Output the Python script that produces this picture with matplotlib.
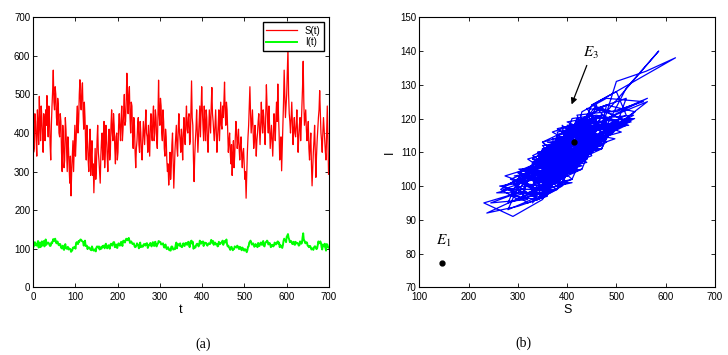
import numpy as np
import matplotlib
matplotlib.use("Agg")
import matplotlib.pyplot as plt

# ---- data ----
# samples at t = 0, 3, 6, ... 699
S_vals = [410, 360, 430, 340, 420, 495, 380, 440, 350, 420, 460, 497, 390, 440, 330, 470,
          563, 460, 500, 420, 470, 390, 430, 300, 380, 330, 410, 300, 360, 270, 237, 340,
          300, 420, 380, 470, 430, 538, 460, 530, 410, 440, 330, 380, 300, 410, 340, 290,
          245, 360, 310, 420, 330, 270, 380, 330, 430, 350, 390, 300, 410, 350, 460, 380,
          420, 320, 400, 350, 450, 380, 470, 410, 500, 430, 555, 450, 520, 400, 470, 360,
          420, 310, 380, 440, 350, 400, 330, 430, 370, 460, 390, 420, 340, 450, 380, 470,
          400, 440, 360, 537, 420, 470, 380, 430, 340, 390, 300, 265, 350, 310, 400, 257,
          360, 420, 340, 450, 380, 410, 330, 440, 370, 470, 400, 450, 380, 535, 420, 274,
          380, 460, 350, 430, 390, 520, 420, 470, 380, 440, 350, 460, 400, 518, 430, 380,
          460, 350, 420, 380, 480, 410, 440, 532, 420, 460, 350, 400, 320, 290, 380, 340,
          430, 360, 410, 330, 390, 310, 360, 280, 231, 350, 420, 520, 400, 460, 360, 420,
          340, 400, 450, 370, 480, 400, 440, 370, 525, 430, 470, 360, 420, 340, 450, 380,
          480, 527, 400, 350, 302, 420, 563, 440, 500, 620, 450, 400, 480, 370, 440, 390,
          460, 350, 420, 380, 470, 586, 420, 460, 380, 430, 330, 400, 263, 350, 420, 285,
          380, 440, 510, 400, 350, 440, 380, 330, 470, 293]
I_vals = [106, 111, 109, 108, 120, 116, 104, 119, 113, 106, 124, 114, 116, 110, 108, 114,
          125, 123, 118, 119, 111, 112, 105, 104, 99, 107, 102, 101, 98, 99, 92, 96,
          102, 105, 115, 114, 120, 122, 123, 119, 108, 121, 107, 99, 104, 101, 96, 101,
          95, 98, 103, 105, 106, 100, 100, 105, 106, 110, 104, 104, 107, 110, 111, 114,
          117, 108, 103, 111, 110, 113, 114, 120, 119, 122, 125, 124, 121, 118, 115, 113,
          107, 105, 114, 108, 111, 104, 108, 109, 112, 111, 114, 107, 109, 110, 113, 112,
          117, 108, 112, 120, 117, 111, 112, 107, 108, 102, 103, 99, 98, 105, 104, 98,
          99, 116, 110, 111, 114, 107, 109, 109, 114, 113, 116, 111, 115, 121, 118, 103,
          103, 112, 111, 109, 116, 118, 119, 113, 114, 110, 111, 112, 117, 119, 120, 114,
          111, 112, 107, 114, 114, 118, 110, 120, 119, 111, 108, 101, 104, 101, 99, 106,
          105, 108, 102, 105, 100, 103, 97, 99, 95, 96, 106, 118, 116, 111, 111, 107,
          109, 104, 110, 112, 113, 117, 108, 113, 118, 119, 112, 111, 106, 110, 109, 114,
          113, 119, 116, 110, 105, 109, 126, 123, 131, 138, 124, 119, 116, 116, 111, 118,
          114, 113, 109, 117, 115, 140, 121, 114, 116, 107, 107, 103, 100, 97, 106, 102,
          101, 119, 116, 115, 98, 107, 113, 95, 111, 103]
# samples at t = 1.5, 4.5, ... 697.5
S_mid = [350, 450, 380, 460, 370, 420, 470, 390, 450, 380, 420, 430, 470, 370, 420, 510,
         480, 520, 440, 490, 400, 450, 350, 420, 310, 440, 350, 390, 310, 340, 300, 380,
         360, 340, 440, 400, 500, 480, 510, 450, 480, 370, 420, 330, 370, 290, 380, 320,
         300, 280, 380, 350, 300, 340, 400, 370, 310, 420, 340, 370, 330, 420, 400, 450,
         360, 390, 330, 420, 410, 440, 380, 460, 420, 480, 490, 500, 440, 480, 390, 440,
         350, 360, 420, 370, 430, 350, 380, 400, 420, 400, 350, 380, 420, 400, 440, 380,
         460, 380, 440, 450, 490, 400, 460, 360, 410, 330, 320, 300, 280, 370, 330, 310,
         390, 360, 410, 400, 350, 380, 400, 390, 430, 410, 440, 370, 460, 440, 330, 340,
         410, 400, 390, 470, 450, 460, 380, 420, 460, 380, 410, 430, 470, 450, 400, 420,
         400, 390, 460, 430, 420, 470, 480, 450, 480, 400, 380, 350, 370, 340, 310, 390,
         400, 380, 360, 370, 340, 350, 320, 300, 290, 390, 470, 450, 430, 410, 380, 390,
         380, 430, 410, 420, 430, 460, 400, 450, 470, 400, 420, 390, 380, 400, 420, 440,
         430, 450, 330, 390, 360, 480, 500, 470, 560, 500, 430, 440, 420, 410, 400, 420,
         400, 390, 440, 420, 520, 480, 440, 410, 400, 360, 370, 320, 310, 380, 350, 340,
         410, 460, 450, 380, 400, 410, 350, 400, 380]
I_mid = [105, 117, 112, 115, 103, 114, 116, 108, 120, 109, 110, 116, 114, 107, 116, 119,
         120, 126, 114, 118, 109, 112, 101, 108, 97, 112, 100, 105, 101, 99, 94, 103,
         104, 100, 117, 112, 118, 124, 120, 118, 114, 107, 108, 103, 101, 97, 106, 96,
         98, 93, 106, 103, 98, 104, 106, 108, 101, 113, 101, 109, 100, 113, 108, 117,
         104, 111, 102, 114, 108, 118, 107, 121, 116, 126, 122, 128, 115, 119, 112, 114,
         104, 108, 110, 101, 116, 106, 105, 112, 108, 114, 102, 110, 115, 106, 117, 107,
         118, 106, 113, 119, 117, 112, 114, 103, 111, 99, 104, 96, 95, 106, 98, 100,
         110, 101, 112, 108, 106, 104, 114, 107, 115, 110, 118, 104, 120, 113, 100, 106,
         108, 113, 106, 121, 113, 117, 107, 116, 115, 108, 114, 112, 123, 114, 110, 116,
         113, 106, 118, 112, 116, 121, 117, 116, 124, 106, 104, 97, 105, 96, 99, 104,
         103, 106, 99, 104, 96, 101, 95, 98, 91, 105, 116, 121, 111, 114, 105, 112,
         106, 115, 107, 116, 110, 120, 106, 117, 121, 111, 115, 104, 110, 106, 116, 111,
         117, 113, 104, 106, 102, 120, 122, 117, 134, 128, 117, 120, 112, 118, 110, 114,
         115, 108, 119, 113, 129, 122, 115, 117, 108, 104, 107, 98, 101, 103, 106, 99,
         110, 114, 119, 104, 111, 106, 103, 112, 105]
t_step = 1.5
E1 = (145.4, 77.3)
E3 = (414.5, 113.1)

n = len(S_vals) + len(S_mid)
S = np.empty(n)
I = np.empty(n)
S[0::2], S[1::2] = S_vals, S_mid
I[0::2], I[1::2] = I_vals, I_mid
t = np.arange(n) * t_step

plt.rcParams['font.family'] = ['Liberation Sans', 'DejaVu Sans']
plt.rcParams['mathtext.fontset'] = 'stix'

fig = plt.figure(figsize=(7.28, 3.55), dpi=100)
ax1 = fig.add_axes([0.0453, 0.1907, 0.4066, 0.7606])
ax2 = fig.add_axes([0.576, 0.1907, 0.406, 0.7606])

for ax in (ax1, ax2):
    ax.tick_params(direction='in', top=True, right=True, labelsize=7, length=3, width=0.6, pad=2)
    ax.tick_params(axis='x', pad=3.5)
    for sp in ax.spines.values():
        sp.set_linewidth(0.8)

# (a) time series
ax1.plot(t, S, color='#ff0000', lw=0.9, label='S(t)')
ax1.plot(t, I, color='#00ff00', lw=1.4, label='I(t)')
ax1.set_xlim(0, 700)
ax1.set_ylim(0, 700)
ax1.set_xticks(range(0, 701, 100))
ax1.set_yticks(range(0, 701, 100))
ax1.set_xlabel('t', fontsize=9, labelpad=1)
leg = ax1.legend(loc='upper right', fontsize=7, frameon=True, fancybox=False,
                 edgecolor='black', framealpha=1, handlelength=3.2,
                 borderaxespad=0.5, borderpad=0.35, labelspacing=0.2)
leg.get_frame().set_linewidth(1.0)

# (b) phase plane
ax2.plot(S, I, color='#0000ff', lw=0.9)
ax2.plot(*E3, 'o', color='black', ms=3.5)
ax2.plot(*E1, 'o', color='black', ms=3.5)
ax2.set_xlim(100, 700)
ax2.set_ylim(70, 150)
ax2.set_xticks(range(100, 701, 100))
ax2.set_yticks(range(70, 151, 10))
ax2.set_xlabel('S', fontsize=9, labelpad=1)
ax2.set_ylabel('I', fontsize=9, labelpad=3)
ax2.annotate('', xy=(407, 123.4), xytext=(442, 136.5),
             arrowprops=dict(arrowstyle='-|>', color='black', lw=0.9,
                             mutation_scale=9))
ax2.text(448, 139.5, r'$E_3$', fontsize=11, ha='center', va='center')
ax2.text(150, 83.7, r'$E_1$', fontsize=11, ha='center', va='center')

fig.text(203 / 728, 1 - 344 / 355, '(a)', fontsize=10, family='Liberation Serif',
         ha='center', va='center')
fig.text(523 / 728, 1 - 343 / 355, '(b)', fontsize=10, family='Liberation Serif',
         ha='center', va='center')

fig.savefig('out.png', dpi=100)
